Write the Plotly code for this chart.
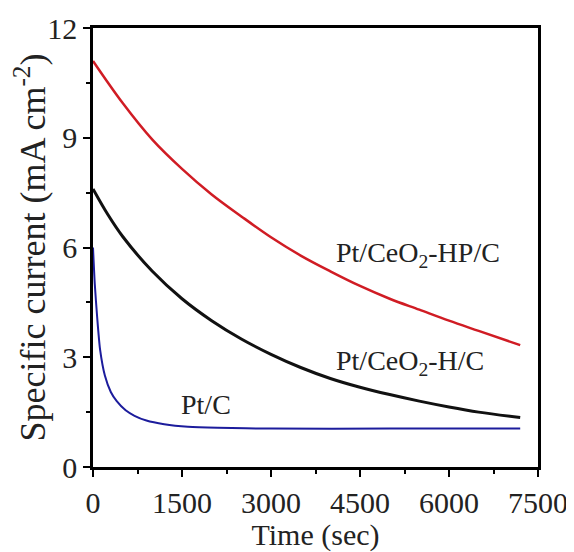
import plotly.graph_objects as go

# Time (sec)
t_hp = [0, 500, 1000, 1500, 2000, 2500, 3000, 3500, 4000, 4500, 5000, 5500, 6000, 6500, 7200]
i_hp = [11.1, 9.95, 8.95, 8.15, 7.45, 6.85, 6.28, 5.78, 5.35, 4.95, 4.6, 4.3, 4.0, 3.72, 3.33]

t_h = [0, 250, 500, 1000, 1500, 2000, 2500, 3000, 3500, 4000, 4500, 5000, 5500, 6000, 6500, 7200]
i_h = [7.6, 6.9, 6.3, 5.35, 4.6, 4.0, 3.5, 3.08, 2.72, 2.42, 2.18, 1.98, 1.8, 1.64, 1.5, 1.35]

t_c = [0, 30, 70, 120, 200, 300, 400, 550, 700, 900, 1200, 1600, 2100, 3000, 5000, 7200]
i_c = [6.0, 5.0, 4.1, 3.2, 2.5, 2.05, 1.8, 1.55, 1.4, 1.27, 1.17, 1.1, 1.07, 1.05, 1.05, 1.05]

x_ticks = [0, 1500, 3000, 4500, 6000, 7500]
y_ticks = [0, 3, 6, 9, 12]

labels = ["Pt/CeO<sub>2</sub>-HP/C", "Pt/CeO<sub>2</sub>-H/C", "Pt/C"]
label_x = [5480, 5340, 1900]
label_y = [5.8, 2.86, 1.72]

font = "Liberation Serif, Times New Roman, serif"

fig = go.Figure()
fig.add_trace(go.Scatter(x=t_hp, y=i_hp, mode="lines",
                         line=dict(color="#d01c24", width=2.5, shape="spline", smoothing=1.0)))
fig.add_trace(go.Scatter(x=t_h, y=i_h, mode="lines",
                         line=dict(color="#111111", width=3, shape="spline", smoothing=1.0)))
fig.add_trace(go.Scatter(x=t_c, y=i_c, mode="lines",
                         line=dict(color="#1c1c9c", width=2, shape="spline", smoothing=0.6)))

for txt, lx, ly in zip(labels, label_x, label_y):
    fig.add_annotation(x=lx, y=ly, text=txt, showarrow=False,
                       font=dict(family=font, size=28, color="#222222"))

axis_common = dict(showline=True, linecolor="black", linewidth=2.5, mirror=True,
                   ticks="outside", tickcolor="black", tickwidth=2, ticklen=7,
                   showgrid=False, zeroline=False, automargin=False,
                   tickfont=dict(family=font, size=30, color="#222222"))

fig.update_xaxes(range=[0, 7500], tickvals=x_ticks,
                 minor=dict(ticks="outside", dtick=750, tick0=0, ticklen=4, tickwidth=2, tickcolor="black"),
                 title=dict(text="Time (sec)", font=dict(family=font, size=30, color="#222222"), standoff=2),
                 **axis_common)
fig.update_yaxes(range=[0, 12], tickvals=y_ticks,
                 minor=dict(ticks="outside", dtick=1.5, tick0=0, ticklen=4, tickwidth=2, tickcolor="black"),
                 title=dict(text="Specific current (mA cm<sup>-2</sup>)",
                            font=dict(family=font, size=36, color="#222222"), standoff=4),
                 **axis_common)

# page body adds an 8px offset, so the figure is 8px smaller than the window
fig.update_layout(width=566, height=544, showlegend=False,
                  plot_bgcolor="white", paper_bgcolor="white",
                  margin=dict(l=85, r=36, t=20, b=85))

fig.write_html("out.html")
